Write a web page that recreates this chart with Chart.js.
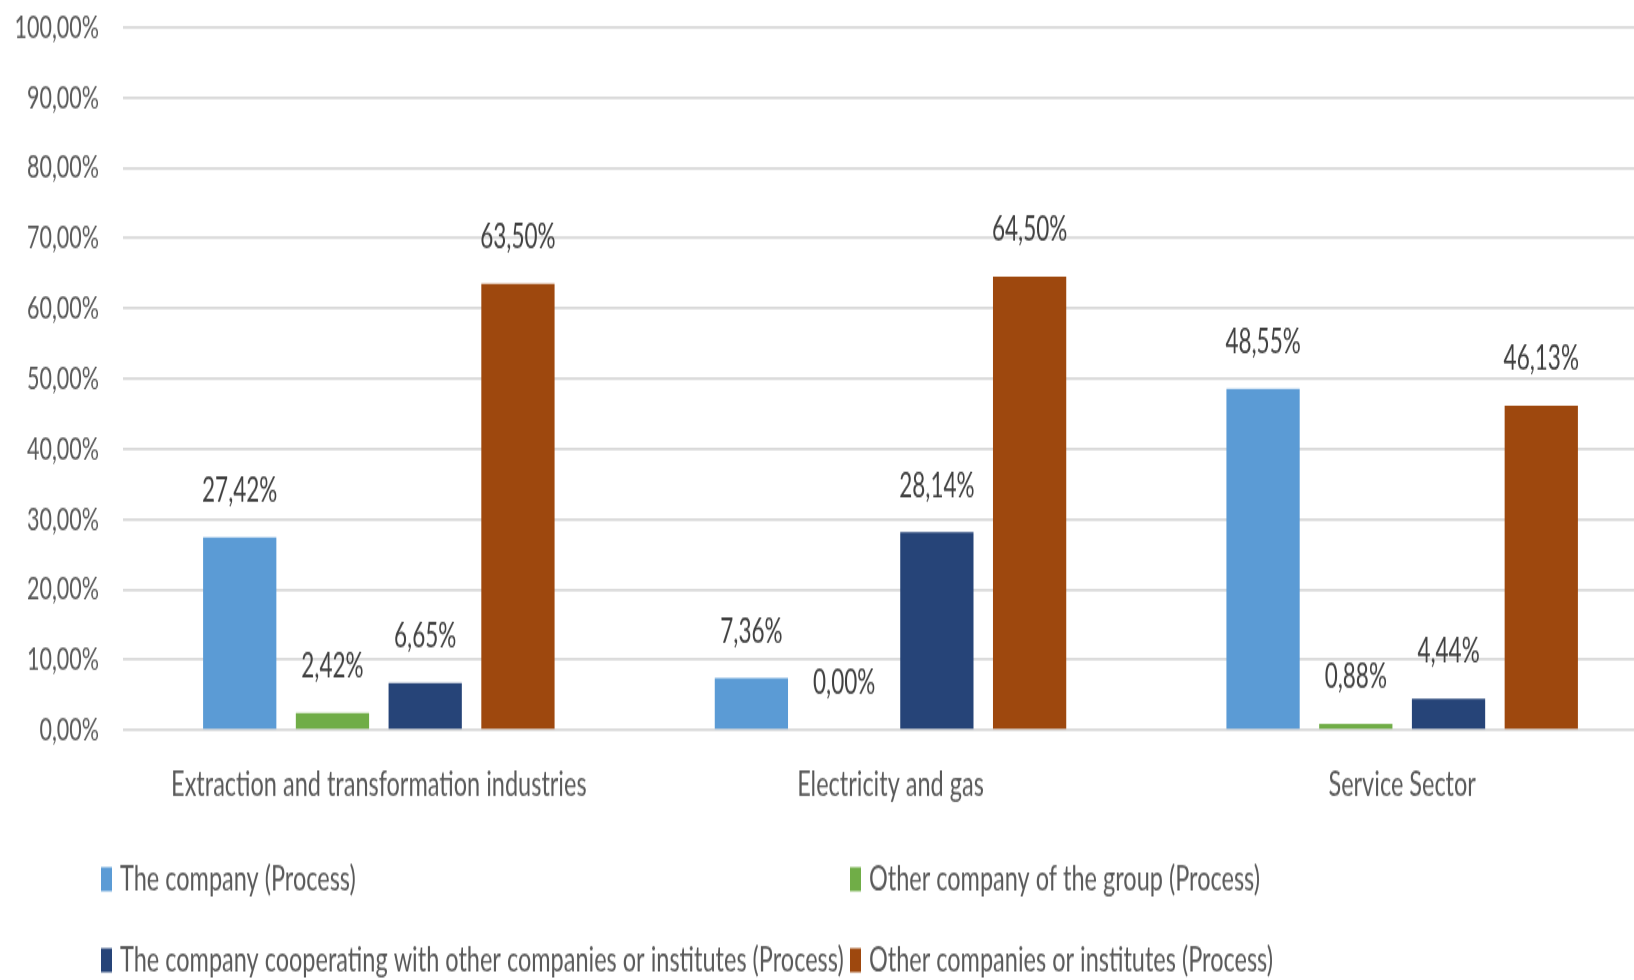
<!DOCTYPE html>
<html>
<head>
<meta charset="utf-8">
<script src="https://cdn.jsdelivr.net/npm/chart.js@4.4.1/dist/chart.umd.min.js"></script>
<style>
    html, body { margin: 0; padding: 0; background: #fff; overflow: hidden; }
</style>
</head>
<body>
<!-- el lienzo se dibuja a 673 px de alto y se estira x1.5 en vertical, como el original -->
<canvas id="grafico" width="1660" height="673" style="display:block; width:1660px; height:1009.5px; margin-top:-28px;"></canvas>
<script>
const categorias = ['Extraction and transformation industries', 'Electricity and gas', 'Service Sector'];
const series = [
    'The company (Process)',
    'Other company of the group (Process)',
    'The company cooperating with other companies or institutes (Process)',
    'Other companies or institutes (Process)'
];
const laEmpresa = [27.42, 7.36, 48.55];
const otraDelGrupo = [2.42, 0.00, 0.88];
const cooperando = [6.65, 28.14, 4.44];
const otrasEmpresas = [63.50, 64.50, 46.13];
const marcasY = [0, 10, 20, 30, 40, 50, 60, 70, 80, 90, 100];

const colores = ['#5B9BD5', '#70AD47', '#264478', '#9E480E'];
const fuente = 'Lato, "Open Sans", sans-serif';
const gris = '#595959';

// 27.42 -> "27,42%"
function formato(v) {
    return v.toFixed(2).replace('.', ',') + '%';
}

// Etiquetas con el valor encima de cada barra
const etiquetasValor = {
    id: 'etiquetasValor',
    afterDatasetsDraw(chart) {
        const ctx = chart.ctx;
        ctx.save();
        ctx.font = '22.5px ' + fuente;
        ctx.fillStyle = '#404040';
        ctx.textAlign = 'center';
        ctx.textBaseline = 'middle';
        chart.data.datasets.forEach((ds, i) => {
            chart.getDatasetMeta(i).data.forEach((barra, j) => {
                ctx.fillText(formato(ds.data[j]), barra.x, barra.y - 31);
            });
        });
        ctx.restore();
    }
};

// Leyenda en dos columnas, abajo
const leyenda = {
    id: 'leyenda',
    afterDraw(chart) {
        const ctx = chart.ctx;
        const columnas = [101, 850];
        const filas = [604.5, 658.5];
        ctx.save();
        ctx.font = '23.5px ' + fuente;
        ctx.textBaseline = 'middle';
        chart.data.datasets.forEach((ds, i) => {
            const x = columnas[i % 2];
            const y = filas[Math.floor(i / 2)];
            ctx.fillStyle = ds.backgroundColor;
            ctx.fillRect(x, y - 8, 11, 16);
            ctx.fillStyle = gris;
            ctx.fillText(ds.label, x + 19, y);
        });
        ctx.restore();
    }
};

const valores = [laEmpresa, otraDelGrupo, cooperando, otrasEmpresas];

new Chart(document.getElementById('grafico'), {
    type: 'bar',
    data: {
        labels: categorias,
        datasets: series.map((nombre, i) => ({
            label: nombre,
            data: valores[i],
            backgroundColor: colores[i],
            barPercentage: 0.79,
            categoryPercentage: 0.725
        }))
    },
    options: {
        responsive: false,
        animation: false,
        devicePixelRatio: 1,
        layout: { padding: { top: 0, right: 2, left: 0, bottom: 0 } },
        plugins: {
            legend: { display: false },
            tooltip: { enabled: false }
        },
        scales: {
            x: {
                grid: { display: false },
                border: { display: false },
                ticks: { color: gris, font: { family: fuente, size: 23.5 }, padding: 14, maxRotation: 0 },
                afterFit(escala) { escala.height = 168; }
            },
            y: {
                min: 0,
                max: 100,
                afterBuildTicks(escala) { escala.ticks = marcasY.map(v => ({ value: v })); },
                grid: { color: '#D9D9D9', lineWidth: 1.7, drawTicks: false },
                border: { display: false },
                ticks: {
                    color: gris,
                    font: { family: fuente, size: 21.5 },
                    padding: 24,
                    callback: v => formato(v)
                },
                afterFit(escala) { escala.width = 123; }
            }
        }
    },
    plugins: [etiquetasValor, leyenda]
});
</script>
</body>
</html>
